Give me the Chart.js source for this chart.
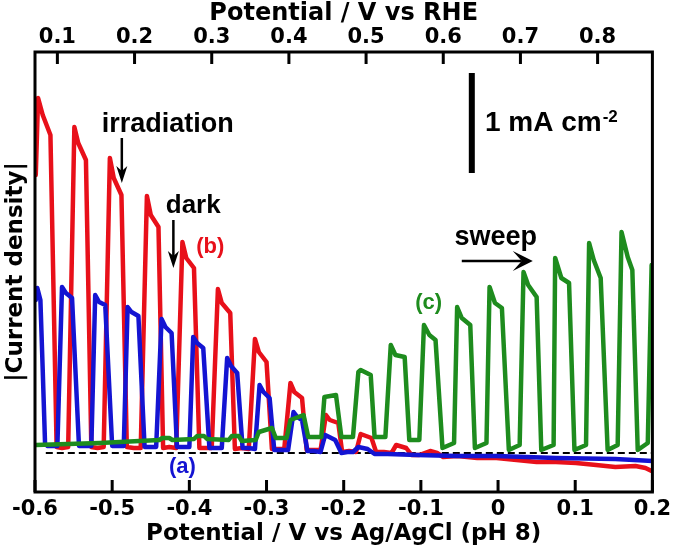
<!DOCTYPE html>
<html>
<head>
<meta charset="utf-8">
<script src="https://cdn.jsdelivr.net/npm/chart.js@4.4.1/dist/chart.umd.min.js"></script>
<style>
  html, body { margin: 0; padding: 0; background: #fff; }
  #wrap { width: 676px; height: 550px; }
</style>
</head>
<body>
<div id="wrap"><canvas id="c" width="676" height="550"></canvas></div>
<script>
// ---- axis ranges / ticks ----
const X_MIN = -0.6, X_MAX = 0.2;
const Y_MIN = -0.39, Y_MAX = 4.01;           // mA cm-2, zero = dashed line
const RHE_OFFSET = 0.671;                    // V vs RHE = V vs Ag/AgCl + 0.671 (pH 8)
const BOTTOM_TICKS = [-0.6, -0.5, -0.4, -0.3, -0.2, -0.1, 0, 0.1, 0.2];
const TOP_TICKS = [0.1, 0.2, 0.3, 0.4, 0.5, 0.6, 0.7, 0.8];

// ---- series: [potential (V vs Ag/AgCl), current density (mA cm-2)] ----
const RED_B = [
  [-0.599,2.78],[-0.596,3.55],[-0.590,3.38],[-0.580,3.18],[-0.572,0.06],
  [-0.565,0.05],[-0.557,0.06],[-0.549,3.26],[-0.544,3.10],[-0.534,2.93],[-0.527,0.06],
  [-0.519,0.05],[-0.511,0.06],[-0.503,2.95],[-0.498,2.75],[-0.488,2.58],[-0.481,0.06],
  [-0.472,0.05],[-0.463,0.05],[-0.455,2.57],[-0.450,2.38],[-0.440,2.26],[-0.434,0.05],
  [-0.426,0.06],[-0.417,0.05],[-0.409,2.11],[-0.404,1.95],[-0.394,1.85],[-0.387,0.05],
  [-0.379,0.05],[-0.371,0.05],[-0.363,1.64],[-0.358,1.50],[-0.347,1.40],[-0.341,0.04],
  [-0.332,0.05],[-0.323,0.04],[-0.315,1.14],[-0.310,1.01],[-0.300,0.91],[-0.293,0.04],
  [-0.285,0.04],[-0.277,0.04],[-0.269,0.70],[-0.264,0.61],[-0.254,0.55],[-0.248,0.03],
  [-0.239,0.03],[-0.230,0.03],[-0.223,0.38],[-0.218,0.33],[-0.207,0.30],[-0.202,0.01],
  [-0.193,0.02],[-0.184,0.01],[-0.178,0.19],[-0.164,0.15],[-0.158,0.01],
  [-0.148,0.01],[-0.138,0.00],[-0.132,0.08],[-0.119,0.05],[-0.112,-0.02],
  [-0.102,-0.02],[-0.088,0.02],[-0.079,0.00],[-0.071,-0.04],[-0.053,-0.03],
  [-0.027,-0.05],[-0.002,-0.05],[0.024,-0.07],[0.050,-0.09],[0.075,-0.09],
  [0.101,-0.10],[0.127,-0.12],[0.152,-0.14],[0.178,-0.13],[0.191,-0.15],[0.199,-0.18]
];
const BLUE_A = [
  [-0.599,1.53],[-0.597,1.65],[-0.593,1.53],[-0.590,0.83],[-0.587,0.10],[-0.584,0.07],
  [-0.571,0.07],[-0.565,1.66],[-0.560,1.60],[-0.552,1.55],[-0.543,0.07],
  [-0.535,0.07],[-0.527,0.07],[-0.522,1.58],[-0.517,1.51],[-0.509,1.48],[-0.500,0.07],
  [-0.493,0.07],[-0.485,0.07],[-0.480,1.46],[-0.475,1.41],[-0.466,1.37],[-0.458,0.06],
  [-0.450,0.06],[-0.443,0.06],[-0.436,1.34],[-0.431,1.26],[-0.423,1.20],[-0.416,0.06],
  [-0.408,0.06],[-0.400,0.06],[-0.395,1.16],[-0.390,1.10],[-0.382,1.05],[-0.374,0.05],
  [-0.366,0.05],[-0.358,0.05],[-0.351,0.95],[-0.346,0.87],[-0.338,0.80],[-0.331,0.05],
  [-0.323,0.05],[-0.315,0.04],[-0.309,0.68],[-0.304,0.61],[-0.296,0.55],[-0.290,0.03],
  [-0.281,0.03],[-0.272,0.03],[-0.265,0.41],[-0.260,0.36],[-0.254,0.33],[-0.247,0.02],
  [-0.239,0.02],[-0.230,0.01],[-0.224,0.18],[-0.211,0.13],[-0.203,0.00],
  [-0.195,0.01],[-0.188,0.01],[-0.181,0.06],[-0.169,0.04],[-0.160,-0.01],
  [-0.143,-0.01],[-0.105,-0.02],[-0.053,-0.03],[-0.002,-0.03],[0.075,-0.05],
  [0.152,-0.06],[0.200,-0.08]
];
const GREEN_C = [
  [-0.599,0.08],[-0.516,0.10],[-0.439,0.13],[-0.435,0.15],[-0.426,0.15],[-0.422,0.13],
  [-0.394,0.14],[-0.390,0.17],[-0.381,0.17],[-0.377,0.14],[-0.349,0.13],[-0.345,0.17],
  [-0.336,0.17],[-0.332,0.12],[-0.314,0.13],[-0.310,0.21],[-0.293,0.25],[-0.288,0.15],
  [-0.274,0.15],[-0.269,0.33],[-0.252,0.38],[-0.246,0.16],[-0.229,0.16],[-0.225,0.56],
  [-0.210,0.58],[-0.203,0.16],[-0.188,0.16],[-0.181,0.81],[-0.178,0.83],[-0.165,0.78],
  [-0.160,0.16],[-0.146,0.16],[-0.139,1.08],[-0.133,0.98],[-0.121,0.96],[-0.115,0.13],
  [-0.102,0.13],[-0.096,1.28],[-0.089,1.18],[-0.081,1.13],[-0.072,0.05],[-0.057,0.10],
  [-0.053,1.46],[-0.047,1.35],[-0.036,1.28],[-0.030,0.05],[-0.015,0.10],[-0.011,1.66],
  [-0.004,1.50],[0.005,1.45],[0.014,0.03],[0.028,0.08],[0.033,1.81],[0.039,1.68],
  [0.050,1.56],[0.056,0.03],[0.072,0.08],[0.074,1.95],[0.082,1.75],[0.092,1.70],
  [0.099,0.03],[0.114,0.08],[0.118,2.10],[0.124,1.93],[0.133,1.75],[0.142,0.03],
  [0.155,0.08],[0.160,2.21],[0.168,1.96],[0.174,1.83],[0.181,0.03],[0.194,0.10],
  [0.199,1.88]
];
const ZERO_LINE = [[-0.586, 0], [0.200, 0]];
const SCALE_BAR = [[-0.034, 2.8], [-0.034, 3.8]];   // 1 mA cm-2

const toXY = arr => arr.map(p => ({x: p[0], y: p[1]}));
const fmt = v => (Math.abs(v) < 1e-9 ? '0' : v.toFixed(1));

const AX_FONT = 'DejaVu Sans';
const ANN_FONT = '"Liberation Sans", Arial, sans-serif';

Chart.defaults.color = '#000';
Chart.defaults.font.family = AX_FONT;
Chart.defaults.font.weight = 'bold';

function drawArrow(ctx, x1, y1, x2, y2, L, W, notch, lw) {
  const dx = x2 - x1, dy = y2 - y1, len = Math.hypot(dx, dy);
  const ux = dx / len, uy = dy / len, px = -uy, py = ux;
  ctx.lineWidth = lw;
  ctx.beginPath();
  ctx.moveTo(x1, y1);
  ctx.lineTo(x2 - ux * notch, y2 - uy * notch);
  ctx.stroke();
  ctx.beginPath();
  ctx.moveTo(x2, y2);
  ctx.lineTo(x2 - ux * L + px * W, y2 - uy * L + py * W);
  ctx.lineTo(x2 - ux * notch, y2 - uy * notch);
  ctx.lineTo(x2 - ux * L - px * W, y2 - uy * L - py * W);
  ctx.closePath();
  ctx.fill();
}

const annot = {
  id: 'annot',
  afterDatasetsDraw(chart) {
    const {ctx, chartArea: a, scales} = chart;
    const x = scales.x, x2 = scales.x2, y = scales.y;
    const X = v => x.getPixelForValue(v), Y = v => y.getPixelForValue(v);
    ctx.save();
    ctx.strokeStyle = '#000';
    ctx.fillStyle = '#000';
    // frame
    ctx.lineWidth = 3;
    ctx.strokeRect(a.left, a.top, a.right - a.left, a.bottom - a.top);
    // inward ticks
    ctx.beginPath();
    BOTTOM_TICKS.forEach(v => { const p = X(v); ctx.moveTo(p, a.bottom); ctx.lineTo(p, a.bottom - 12); });
    TOP_TICKS.forEach(v => { const p = x2.getPixelForValue(v); ctx.moveTo(p, a.top); ctx.lineTo(p, a.top + 12); });
    ctx.stroke();
    // texts
    const txt = (s, xv, yv, size, color, align) => {
      ctx.font = 'bold ' + size + 'px ' + ANN_FONT;
      ctx.fillStyle = color;
      ctx.textAlign = align || 'center';
      ctx.textBaseline = 'alphabetic';
      ctx.fillText(s, X(xv), Y(yv));
    };
    txt('irradiation', -0.428, 3.21, 27, '#000');
    txt('dark', -0.395, 2.40, 26, '#000');
    txt('(b)', -0.373, 2.00, 22, '#e8101a');
    txt('(a)', -0.409, -0.20, 22, '#1414d2');
    txt('(c)', -0.090, 1.44, 22, '#1e8c1e');
    txt('sweep', -0.003, 2.08, 27, '#000');
    // scale bar label
    ctx.font = 'bold 28px ' + ANN_FONT;
    ctx.fillStyle = '#000';
    ctx.textAlign = 'left';
    ctx.textBaseline = 'alphabetic';
    const lx = X(-0.017), ly = Y(3.22);
    ctx.fillText('1 mA cm', lx, ly);
    const w = ctx.measureText('1 mA cm').width;
    ctx.font = 'bold 17px ' + ANN_FONT;
    ctx.fillText('-2', lx + w + 1, ly - 9);
    // arrows
    ctx.fillStyle = '#000';
    drawArrow(ctx, X(-0.4875), Y(3.15), X(-0.4875), Y(2.70), 17, 5.5, 12, 2.5);
    drawArrow(ctx, X(-0.4207), Y(2.33), X(-0.4207), Y(1.85), 17, 5.5, 12, 2.5);
    drawArrow(ctx, X(-0.047), Y(1.92), X(0.045), Y(1.92), 20, 10, 11, 2.5);
    ctx.restore();
  }
};

const lineDs = (label, pts, color, order, extra) => Object.assign({
  label, data: toXY(pts), borderColor: color, backgroundColor: color,
  borderWidth: 4.5, pointRadius: 0, tension: 0, fill: false, order,
  borderJoinStyle: 'round', borderCapStyle: 'round'
}, extra || {});

new Chart(document.getElementById('c'), {
  type: 'line',
  data: {
    datasets: [
      lineDs('(c)', GREEN_C, '#1e8c1e', 1),
      lineDs('(a)', BLUE_A, '#1414d2', 2),
      lineDs('(b)', RED_B, '#e8101a', 3),
      lineDs('zero', ZERO_LINE, '#000', 4, {borderWidth: 2, borderDash: [7, 4], borderCapStyle: 'butt'}),
      lineDs('1 mA cm-2', SCALE_BAR, '#000', 0, {borderWidth: 6, borderCapStyle: 'butt'})
    ]
  },
  options: {
    responsive: false,
    animation: false,
    devicePixelRatio: 1,
    layout: {padding: {left: 0, right: 19, top: 0, bottom: 0}},
    plugins: {legend: {display: false}, tooltip: {enabled: false}},
    scales: {
      x: {
        type: 'linear', position: 'bottom', min: X_MIN, max: X_MAX,
        afterBuildTicks: s => { s.ticks = BOTTOM_TICKS.map(v => ({value: v})); },
        afterFit: s => { s.height = 58; },
        grid: {display: false, drawTicks: false},
        border: {display: false},
        ticks: {font: {size: 21, weight: 'bold'}, color: '#000', padding: 5,
                maxRotation: 0, autoSkip: false, callback: v => fmt(v)},
        title: {display: true, text: 'Potential / V vs Ag/AgCl (pH 8)',
                font: {size: 23, weight: 'bold'}, color: '#000', padding: {top: 0, bottom: 2}}
      },
      x2: {
        type: 'linear', axis: 'x', position: 'top',
        min: X_MIN + RHE_OFFSET, max: X_MAX + RHE_OFFSET,
        afterBuildTicks: s => { s.ticks = TOP_TICKS.map(v => ({value: v})); },
        afterFit: s => { s.height = 52; },
        grid: {display: false, drawTicks: false},
        border: {display: false},
        ticks: {font: {size: 21, weight: 'bold'}, color: '#000', padding: 2,
                maxRotation: 0, autoSkip: false, callback: v => fmt(v)},
        title: {display: true, text: 'Potential / V vs RHE',
                font: {size: 24, weight: 'bold'}, color: '#000', padding: {top: -1, bottom: 0}}
      },
      y: {
        type: 'linear', position: 'left', min: Y_MIN, max: Y_MAX,
        afterFit: s => { s.width = 35; },
        grid: {display: false, drawTicks: false},
        border: {display: false},
        ticks: {display: false},
        title: {display: true, text: '|Current density|',
                font: {size: 23, weight: 'bold'}, color: '#000', padding: {top: 2, bottom: 0}}
      }
    }
  },
  plugins: [annot]
});
</script>
</body>
</html>
